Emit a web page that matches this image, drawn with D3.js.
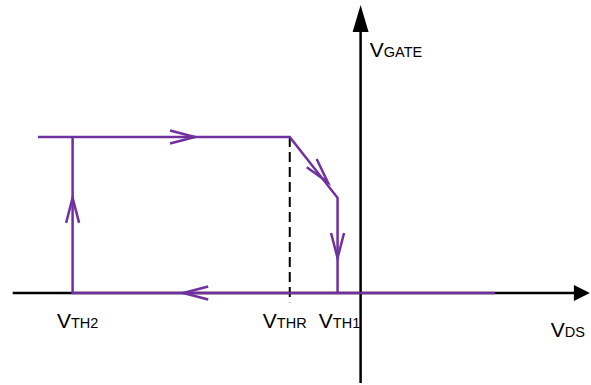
<!DOCTYPE html>
<html>
<head>
<meta charset="utf-8">
<script src="https://cdn.jsdelivr.net/npm/d3@7"></script>
<style>
  body { margin: 0; background: #fff; }
  text { font-family: Arial, "Liberation Sans", sans-serif; fill: #000; }
</style>
</head>
<body>
<script>
// data in chart units: x = V_DS (arbitrary), y = V_GATE (0 = off, 1 = on)
const vTH2 = -5.0, vTHR = -1.23, vTH1 = -0.4;
const kneeGate = 0.61;

// upper branch: from far left along gate-on, past V_THR, down to V_TH1
const upperPath = [[-5.6, 1], [vTHR, 1], [vTH1, kneeGate], [vTH1, 0]];
// lower branch: along gate-off leftwards to V_TH2, then up to gate-on
const lowerPath = [[2.33, 0], [vTH2, 0], [vTH2, 1]];

// arrow heads: tip position and the point it comes from (direction)
const arrows = [
  { tip: [-2.875, 1], from: [-5.6, 1] },
  { tip: [-0.57, 0.71], from: [vTHR, 1] },
  { tip: [vTH1, 0.224], from: [vTH1, kneeGate] },
  { tip: [-3.08, 0], from: [2.33, 0] },
  { tip: [vTH2, 0.61], from: [vTH2, 0] }
];

const xLabels = [
  { v: vTH2, main: "V", sub: "TH2" },
  { v: vTHR, main: "V", sub: "THR" },
  { v: vTH1, main: "V", sub: "TH1" }
];
const axisNames = [
  { at: [3.3, -0.28], main: "V", sub: "DS" },
  { at: [0.16, 1.51], main: "V", sub: "GATE" }
];

const width = 591, height = 385;
const purple = "#7030a0";

const x = d3.scaleLinear().domain([-6, 4]).range([15, 591]);
const y = d3.scaleLinear().domain([0, 1]).range([293, 137]);

const svg = d3.select("body").append("svg")
  .attr("width", width)
  .attr("height", height);

// axes with filled arrow heads
svg.append("line")
  .attr("x1", x(-6.04)).attr("x2", x(3.75))
  .attr("y1", y(0)).attr("y2", y(0))
  .attr("stroke", "#000").attr("stroke-width", 2.5);
svg.append("path")
  .attr("d", `M${x(3.98)},${y(0)} L${x(3.98) - 16},${y(0) - 8} L${x(3.98) - 16},${y(0) + 8} Z`)
  .attr("fill", "#000");

svg.append("line")
  .attr("x1", x(0)).attr("x2", x(0))
  .attr("y1", y(-0.577)).attr("y2", y(1.7))
  .attr("stroke", "#000").attr("stroke-width", 2.5);
svg.append("path")
  .attr("d", `M${x(0)},${y(1.846)} L${x(0) - 8},${y(1.846) + 27} L${x(0) + 8},${y(1.846) + 27} Z`)
  .attr("fill", "#000");

// dashed threshold marker
svg.append("line")
  .attr("x1", x(vTHR)).attr("x2", x(vTHR))
  .attr("y1", y(1)).attr("y2", y(-0.06))
  .attr("stroke", "#000").attr("stroke-width", 2)
  .attr("stroke-dasharray", "10,5");

// hysteresis loop
const line = d3.line().x(d => x(d[0])).y(d => y(d[1]));
[upperPath, lowerPath].forEach(p => {
  svg.append("path")
    .attr("d", line(p))
    .attr("fill", "none")
    .attr("stroke", purple)
    .attr("stroke-width", 2.5)
    .attr("stroke-linejoin", "miter");
});

// open chevron arrows
const len = 25, hw = 6.5;
arrows.forEach(a => {
  const tx = x(a.tip[0]), ty = y(a.tip[1]);
  const fx = x(a.from[0]), fy = y(a.from[1]);
  const dx = tx - fx, dy = ty - fy;
  const n = Math.hypot(dx, dy);
  const ux = dx / n, uy = dy / n;
  const bx = tx - ux * len, by = ty - uy * len;
  svg.append("path")
    .attr("d", `M${bx - uy * hw},${by + ux * hw} L${tx},${ty} L${bx + uy * hw},${by - ux * hw}`)
    .attr("fill", "none")
    .attr("stroke", purple)
    .attr("stroke-width", 2.5)
    .attr("stroke-linejoin", "miter");
});

// labels
function label(px, py, main, sub, anchor) {
  const t = svg.append("text").attr("x", px).attr("y", py)
    .attr("text-anchor", anchor || "start");
  t.append("tspan").attr("font-size", 21).text(main);
  t.append("tspan").attr("font-size", 14.5).text(sub);
}
// small nudges so V_THR and V_TH1 don't crowd each other
const nudge = [5, -5, 2];
xLabels.forEach((d, i) => label(x(d.v) + nudge[i], 328, d.main, d.sub, "middle"));
axisNames.forEach(d => label(x(d.at[0]), y(d.at[1]), d.main, d.sub));
</script>
</body>
</html>
